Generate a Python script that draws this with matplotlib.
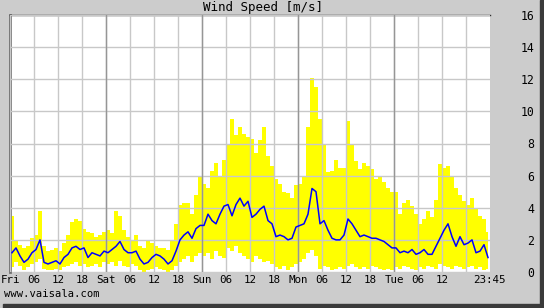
import matplotlib
matplotlib.use("Agg")
import matplotlib.pyplot as plt
from matplotlib.patches import Rectangle

# hourly wind speed [m/s], Fri 00:00 .. Tue 23:00 (120 hours)
wind_avg = [
    # Fri
    1.2, 1.5, 1.0, 0.6, 0.8, 1.2, 1.4, 2.0, 0.6, 0.5, 0.6, 0.7,
    0.5, 0.9, 1.1, 1.5, 1.6, 1.4, 1.5, 0.9, 1.2, 1.1, 1.0, 1.3,
    # Sat
    1.2, 1.4, 1.6, 1.9, 1.4, 1.2, 1.2, 1.3, 0.8, 0.5, 0.6, 0.9,
    1.1, 1.0, 0.8, 0.5, 0.7, 1.3, 2.0, 2.3, 2.5, 2.1, 2.7, 2.9,
    # Sun
    2.9, 3.6, 3.2, 3.0, 3.6, 4.1, 4.2, 3.5, 4.2, 4.6, 4.1, 4.4,
    3.4, 3.6, 3.9, 4.1, 3.2, 3.0, 2.2, 2.3, 2.2, 2.0, 2.1, 2.8,
    # Mon
    2.9, 3.0, 3.6, 5.2, 5.0, 3.0, 3.2, 2.6, 2.1, 2.0, 2.0, 2.3,
    3.3, 3.0, 2.6, 2.2, 2.3, 2.2, 2.1, 2.1, 2.0, 1.9, 1.7, 1.5,
    # Tue
    1.5, 1.2, 1.3, 1.2, 1.4, 1.1, 1.2, 1.4, 1.1, 1.1, 1.6, 2.1,
    2.6, 3.0, 2.2, 1.6, 2.2, 1.7, 1.8, 2.0, 1.2, 1.3, 1.7, 0.9,
]
wind_max = [
    3.5, 1.9, 1.7, 1.5, 1.6, 2.1, 2.3, 3.8, 1.6, 1.3, 1.4, 1.5,
    1.3, 1.8, 2.3, 3.1, 3.3, 3.2, 2.7, 2.5, 2.4, 2.2, 2.3, 2.5,
    2.6, 2.4, 3.8, 3.5, 2.6, 2.2, 2.0, 2.3, 1.6, 1.5, 2.0, 1.8,
    1.6, 1.5, 1.5, 1.4, 1.9, 3.0, 4.2, 4.3, 4.3, 3.6, 4.8, 6.0,
    5.5, 5.2, 6.3, 6.8, 6.0, 7.0, 8.0, 9.5, 8.5, 9.0, 8.6, 8.4,
    8.3, 7.4, 8.2, 9.0, 7.2, 6.6, 5.8, 5.5, 5.0, 4.9, 4.6, 5.4,
    5.5, 6.0, 9.0, 12.1, 11.5, 9.5, 8.0, 6.2, 6.3, 7.0, 6.5, 6.5,
    9.4, 8.0, 6.9, 6.4, 6.8, 6.6, 6.4, 5.8, 5.9, 5.6, 5.2, 5.0,
    5.0, 3.6, 4.3, 4.5, 4.1, 3.6, 3.0, 3.3, 3.8, 3.4, 4.5, 6.7,
    6.5, 6.6, 6.0, 5.2, 4.8, 4.4, 4.2, 4.6, 3.9, 3.5, 3.3, 2.5,
]
wind_min = [
    0.3, 0.6, 0.4, 0.1, 0.3, 0.5, 0.6, 0.8, 0.2, 0.1, 0.1, 0.2,
    0.1, 0.3, 0.4, 0.5, 0.6, 0.4, 0.5, 0.3, 0.4, 0.5, 0.3, 0.6,
    0.5, 0.6, 0.4, 0.7, 0.4, 0.3, 0.5, 0.4, 0.1, 0.0, 0.1, 0.2,
    0.3, 0.2, 0.1, 0.0, 0.1, 0.4, 0.6, 0.8, 1.0, 0.6, 1.0, 1.2,
    1.0, 1.2, 0.8, 1.3, 1.0, 0.9, 1.5, 1.3, 1.6, 1.2, 1.0, 0.8,
    0.6, 1.0, 0.8, 0.6, 0.7, 0.5, 0.3, 0.2, 0.4, 0.1, 0.3, 0.5,
    0.6, 0.8, 1.2, 1.4, 1.0, 0.2, 0.4, 0.3, 0.1, 0.2, 0.3, 0.2,
    0.4, 0.5, 0.3, 0.2, 0.3, 0.2, 0.4, 0.3, 0.2, 0.1, 0.2, 0.1,
    0.3, 0.2, 0.4, 0.3, 0.2, 0.1, 0.3, 0.2, 0.4, 0.3, 0.2, 0.5,
    0.4, 0.3, 0.2, 0.4, 0.3, 0.2, 0.3, 0.4, 0.2, 0.3, 0.1, 0.2,
]
day_names = ["Fri", "Sat", "Sun", "Mon", "Tue"]
end_label = "23:45"

hours = [h + 0.5 for h in range(len(wind_avg))]

BG = "#cccccc"
fig = plt.figure(figsize=(5.44, 3.08), dpi=100, facecolor=BG)
ax = fig.add_axes([10 / 544, 36 / 308, 480 / 544, 257 / 308])
mono = "DejaVu Sans Mono"

ax.fill_between(hours, wind_min, wind_max, step="mid", color="#ffff00",
                linewidth=0, zorder=1)
ax.plot(hours, wind_avg, color="#0000ff", linewidth=1.1, zorder=4)

# x ticks every 6 h, day names at midnight
tick_pos, tick_lab = [], []
for d, name in enumerate(day_names):
    for k, lab in enumerate([name, "06", "12", "18"]):
        tick_pos.append(d * 24 + k * 6)
        tick_lab.append("" if (d == 4 and k == 3) else lab)
tick_pos.append(119.75)
tick_lab.append(end_label)
ax.set_xticks(tick_pos, tick_lab)
ax.set_xlim(0, 120)
ax.set_ylim(0, 16)
ax.set_yticks(range(0, 17, 2))

ax.set_axisbelow(False)
ax.grid(True, color="#c8c8c8", linewidth=1.0, zorder=2.5)
ax.xaxis.get_gridlines()[-1].set_visible(False)
for d in range(1, 5):
    ax.axvline(d * 24, color="#969696", linewidth=1.0, zorder=2.6)

ax.tick_params(axis="x", length=0, pad=2, labelsize=7.8)
ax.tick_params(axis="y", left=False, labelleft=False, right=True,
               labelright=True, length=0, pad=32, labelsize=8.3)
for lab in ax.get_xticklabels() + ax.get_yticklabels():
    lab.set_fontfamily(mono)
for lab in ax.get_yticklabels():
    lab.set_horizontalalignment("right")

for side in ["right", "bottom"]:
    ax.spines[side].set_visible(False)
ax.spines["top"].set_color("#303030")
ax.spines["top"].set_linewidth(1.0)
ax.spines["left"].set_color("#707070")
ax.spines["left"].set_linewidth(2.0)

fig.text(263 / 544, 1 - 7 / 308, "Wind Speed [m/s]", ha="center",
         va="center", fontsize=9, family=mono)
fig.text(4 / 544, 1 - 294 / 308, "www.vaisala.com", ha="left",
         va="center", fontsize=7.6, family=mono)

# dark border on the right and bottom
fig.patches.append(Rectangle((540 / 544, 0), 4 / 544, 1, transform=fig.transFigure,
                             color="#3a3a3a", zorder=0))
fig.patches.append(Rectangle((3 / 544, 0), 1, 4 / 308, transform=fig.transFigure,
                             color="#3a3a3a", zorder=0))

fig.savefig("out.png", dpi=100, facecolor=BG)
